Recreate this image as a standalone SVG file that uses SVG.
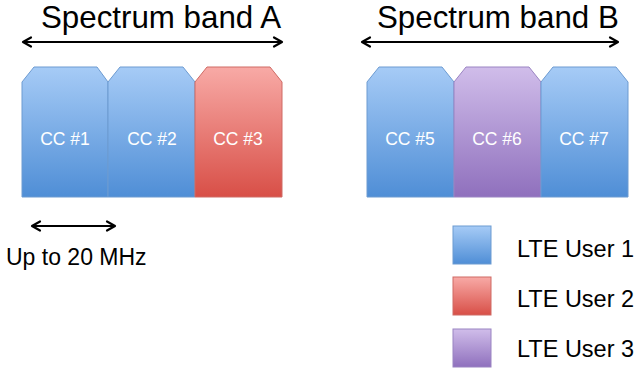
<svg xmlns="http://www.w3.org/2000/svg" width="634" height="369" viewBox="0 0 634 369">
<defs>
<linearGradient id="gBlue" x1="0" y1="0" x2="0" y2="1">
<stop offset="0" stop-color="#a6cbf6"/><stop offset="1" stop-color="#4f8ed6"/>
</linearGradient>
<linearGradient id="gRed" x1="0" y1="0" x2="0" y2="1">
<stop offset="0" stop-color="#f8aaa6"/><stop offset="1" stop-color="#d84f47"/>
</linearGradient>
<linearGradient id="gPurple" x1="0" y1="0" x2="0" y2="1">
<stop offset="0" stop-color="#d0bdea"/><stop offset="1" stop-color="#8f70bd"/>
</linearGradient>
<marker id="arr" viewBox="0 0 12 12" refX="10" refY="6" markerWidth="12" markerHeight="12" markerUnits="userSpaceOnUse" orient="auto-start-reverse">
<path d="M2,1.5 L10,6 L2,10.5" fill="none" stroke="#000" stroke-width="2.2" stroke-linecap="round" stroke-linejoin="round"/>
</marker>
</defs>
<style>
.blue{fill:url(#gBlue);stroke:#6d9bd1;stroke-width:1}
.red{fill:url(#gRed);stroke:#cf6a64;stroke-width:1}
.purple{fill:url(#gPurple);stroke:#9a84c2;stroke-width:1}
.cc{font-family:"Liberation Sans",Arial,sans-serif;font-size:17.5px;fill:#fff;text-anchor:middle}
.title{font-family:"Liberation Sans",Arial,sans-serif;font-size:31.3px;fill:#000}
.lbl{font-family:"Liberation Sans",Arial,sans-serif;font-size:23.5px;fill:#000}
.bw{font-family:"Liberation Sans",Arial,sans-serif;font-size:23px;fill:#000}
.arrow{stroke:#000;stroke-width:2.2;fill:none;marker-start:url(#arr);marker-end:url(#arr)}
</style>
<rect width="634" height="369" fill="#fff"/>
<g id="connectors">
<line class="arrow" x1="23" y1="42" x2="282" y2="42"/>
<line class="arrow" x1="362" y1="42" x2="618" y2="42"/>
<line class="arrow" x1="32" y1="226" x2="115" y2="226"/>
</g>
<g id="titleA"><text class="title" x="41" y="28">Spectrum band A</text></g>
<g id="titleB"><text class="title" x="377" y="28">Spectrum band B</text></g>
<g id="cc1"><path class="blue" d="M22,82 L34,67 L97,67 L108,82 L108,197 L22,197 Z"/><text class="cc" x="65" y="145">CC #1</text></g>
<g id="cc2"><path class="blue" d="M108,82 L120,67 L183,67 L195,82 L195,197 L108,197 Z"/><text class="cc" x="152" y="145">CC #2</text></g>
<g id="cc3"><path class="red" d="M195,82 L207,67 L270,67 L282,82 L282,197 L195,197 Z"/><text class="cc" x="238" y="145">CC #3</text></g>
<g id="cc5"><path class="blue" d="M367,82 L379,67 L442,67 L454,82 L454,197 L367,197 Z"/><text class="cc" x="410" y="145">CC #5</text></g>
<g id="cc6"><path class="purple" d="M454,82 L466,67 L529,67 L541,82 L541,197 L454,197 Z"/><text class="cc" x="497" y="145">CC #6</text></g>
<g id="cc7"><path class="blue" d="M541,82 L553,67 L616,67 L628,82 L628,197 L541,197 Z"/><text class="cc" x="584" y="145">CC #7</text></g>
<g id="bw"><text class="bw" x="6" y="265">Up to 20 MHz</text></g>
<g id="leg1"><rect class="blue" x="453" y="226" width="38" height="38"/><text class="lbl" x="517" y="257">LTE User 1</text></g>
<g id="leg2"><rect class="red" x="453" y="277" width="38" height="38"/><text class="lbl" x="517" y="307">LTE User 2</text></g>
<g id="leg3"><rect class="purple" x="453" y="329" width="38" height="38"/><text class="lbl" x="517" y="357">LTE User 3</text></g>
</svg>
